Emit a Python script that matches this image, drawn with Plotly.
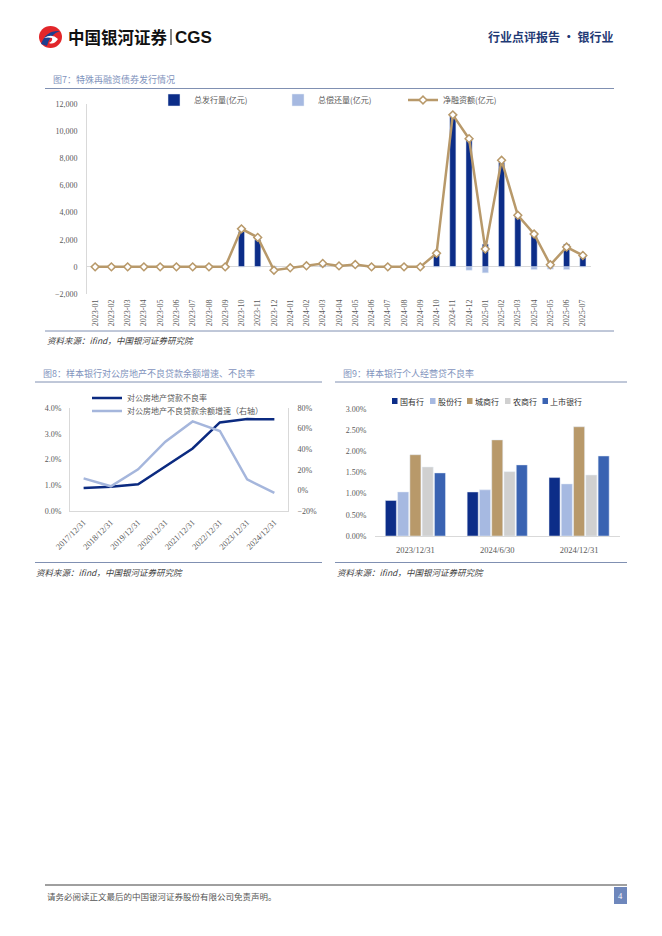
import plotly.graph_objects as go

W, H = 662, 936


def X(px):
    return px / W


def Y(py):
    return 1 - py / H


# ---------------- data: 图7 ----------------
months = ["2023-01", "2023-02", "2023-03", "2023-04", "2023-05", "2023-06", "2023-07", "2023-08",
          "2023-09", "2023-10", "2023-11", "2023-12", "2024-01", "2024-02", "2024-03", "2024-04",
          "2024-05", "2024-06", "2024-07", "2024-08", "2024-09", "2024-10", "2024-11", "2024-12",
          "2025-01", "2025-02", "2025-03", "2025-04", "2025-05", "2025-06", "2025-07"]
issuance = [0, 0, 0, 0, 0, 0, 0, 0,
            0, 2600, 2000, 60, 0, 70, 250, 70,
            170, 0, 0, 0, 0, 940, 11100, 9440,
            1680, 7700, 3700, 2350, 200, 1680, 940]
repayment = [0, 0, 0, 0, 0, 0, 0, 0,
             0, 0, 0, 0, 0, 0, 0, 0,
             0, 0, 0, 0, 0, 0, 0, -250,
             -440, 0, 0, -200, -170, -200, 0]
net_financing = [0, 0, 0, 0, 0, 0, 0, 0,
                 0, 2800, 2170, -250, -70, 80, 250, 70,
                 170, 0, 0, 0, 0, 1000, 11200, 9440,
                 1310, 7850, 3800, 2420, 150, 1460, 840]

# ---------------- data: 图8 ----------------
years8 = ["2017/12/31", "2018/12/31", "2019/12/31", "2020/12/31",
          "2021/12/31", "2022/12/31", "2023/12/31", "2024/12/31"]
re_npl_rate = [0.0089, 0.0094, 0.0104, 0.0172, 0.0243, 0.0344, 0.0357, 0.0356]
re_npl_growth = [0.117, 0.040, 0.204, 0.473, 0.670, 0.577, 0.107, -0.025]

# ---------------- data: 图9 ----------------
dates9 = ["2023/12/31", "2024/6/30", "2024/12/31"]
bank_names = ["国有行", "股份行", "城商行", "农商行", "上市银行"]
state_owned = [0.0084, 0.0104, 0.0138]
joint_stock = [0.0104, 0.0109, 0.0123]
city_comm = [0.0192, 0.0227, 0.0258]
rural_comm = [0.0163, 0.0152, 0.0144]
listed_banks = [0.0149, 0.0168, 0.0189]

NAVY = "#0C2D88"
LIGHT = "#A6B9E1"
TAN = "#B8996A"
GRAY = "#D0D0D0"
MIDBLUE = "#3A63B2"
TXT = "#595959"
SERIF = "Liberation Serif, Noto Sans CJK SC"
CJK = "Noto Sans CJK SC"

fig = go.Figure()

# 图7
fig.add_bar(x=months, y=issuance, name="总发行量(亿元)", marker_color=NAVY,
            width=0.38, offset=-0.19, xaxis="x", yaxis="y", legend="legend")
fig.add_bar(x=months, y=repayment, name="总偿还量(亿元)", marker_color=LIGHT,
            width=0.38, offset=-0.19, xaxis="x", yaxis="y", legend="legend2")
fig.add_scatter(x=months, y=net_financing, name="净融资额(亿元)", mode="lines+markers",
                line=dict(color=TAN, width=2.5),
                marker=dict(symbol="diamond", size=6, color="white", line=dict(color=TAN, width=1.5)),
                xaxis="x", yaxis="y", legend="legend3")

# 图8
fig.add_scatter(x=years8, y=re_npl_rate, name="对公房地产贷款不良率", mode="lines",
                line=dict(color="#0B2A80", width=2.5), xaxis="x2", yaxis="y2", legend="legend4")
fig.add_scatter(x=years8, y=re_npl_growth, name="对公房地产不良贷款余额增速（右轴）", mode="lines",
                line=dict(color="#A5B6DC", width=2.5), xaxis="x2", yaxis="y3", legend="legend5")

# 图9
series9 = [state_owned, joint_stock, city_comm, rural_comm, listed_banks]
colors9 = [NAVY, LIGHT, TAN, GRAY, MIDBLUE]
for name, vals, col in zip(bank_names, series9, colors9):
    fig.add_bar(x=dates9, y=vals, name=name, marker_color=col, xaxis="x3", yaxis="y4",
                showlegend=False)

tickf = dict(family=SERIF, size=8, color=TXT)


def leg(x, y):
    return dict(orientation="v", x=X(x), y=Y(y), xanchor="left", yanchor="middle",
                font=dict(family=CJK, size=8, color=TXT), bgcolor="rgba(0,0,0,0)", itemwidth=30)


fig.update_layout(
    width=W, height=H, margin=dict(l=0, r=0, t=0, b=0, autoexpand=False),
    paper_bgcolor="white", plot_bgcolor="white",
    barmode="group", bargap=0.25, bargroupgap=0.1,
    font=dict(family=SERIF, color=TXT),
    xaxis=dict(domain=[X(87), X(591)], anchor="y", type="category", range=[-0.5, 30.5],
               tickangle=-90, tickfont=dict(family=SERIF, size=8, color=TXT), showline=False,
               ticks="", showgrid=False, zeroline=False, ticklabelstandoff=3, automargin=False),
    yaxis=dict(domain=[Y(294), Y(104)], anchor="x", range=[-2000, 12000], dtick=2000,
               tickformat=",", showgrid=False, zeroline=True, zerolinecolor="#D9D9D9",
               zerolinewidth=1, showline=True, linecolor="#D9D9D9", linewidth=1,
               tickfont=tickf, ticklabelstandoff=7, automargin=False),
    xaxis2=dict(domain=[X(70), X(288)], anchor="y2", type="category", range=[-0.5, 7.5],
                tickangle=-45, tickfont=dict(family=SERIF, size=8.5, color=TXT), showline=True,
                linecolor="#D9D9D9", showgrid=False, ticks="", ticklabelstandoff=2, automargin=False),
    yaxis2=dict(domain=[Y(511), Y(408)], anchor="x2", range=[0, 0.04], dtick=0.01,
                tickformat=".1%", showgrid=False, zeroline=False, showline=True,
                linecolor="#D9D9D9", tickfont=tickf, ticklabelstandoff=6, automargin=False),
    yaxis3=dict(overlaying="y2", side="right", anchor="x2", range=[-0.2, 0.8], dtick=0.2,
                tickformat=".0%", showgrid=False, zeroline=False, showline=True,
                linecolor="#D9D9D9", tickfont=tickf, ticklabelstandoff=7, automargin=False),
    xaxis3=dict(domain=[X(374.5), X(620)], anchor="y4", type="category", range=[-0.5, 2.5],
                tickfont=dict(family=SERIF, size=8.5, color=TXT), showline=True,
                linecolor="#D9D9D9", showgrid=False, ticks="", ticklabelstandoff=6, automargin=False),
    yaxis4=dict(domain=[Y(536), Y(409)], anchor="x3", range=[0, 0.03], dtick=0.005,
                tickformat=".2%", showgrid=False, zeroline=False, showline=False,
                tickfont=tickf, ticklabelstandoff=7, automargin=False),
    legend=leg(154, 100),
    legend2=leg(278, 100),
    legend3=leg(403, 100),
    legend4=leg(87, 398),
    legend5=leg(87, 411),
)

shapes = []
ann = []


def hline(x0, x1, y, color, w=1):
    shapes.append(dict(type="line", xref="paper", yref="paper", x0=X(x0), x1=X(x1),
                       y0=Y(y), y1=Y(y), line=dict(color=color, width=w)))


def text(x, y, s, size, color, xanchor="left", family=CJK, bold=False, italic=False):
    if bold:
        s = "<b>" + s + "</b>"
    if italic:
        s = "<i>" + s + "</i>"
    ann.append(dict(x=X(x), y=Y(y), xref="paper", yref="paper", text=s, showarrow=False,
                    xanchor=xanchor, yanchor="middle", align=xanchor if xanchor != "center" else "center",
                    borderpad=0, font=dict(family=family, size=size, color=color)))


# header logo
shapes.append(dict(type="circle", xref="paper", yref="paper", x0=X(39), x1=X(62), y0=Y(48), y1=Y(26),
                   fillcolor="#E2262A", line=dict(width=0)))
shapes.append(dict(type="path", xref="paper", yref="paper",
                   path=f"M {X(41)},{Y(44)} Q {X(46)},{Y(30)} {X(60)},{Y(31)} Q {X(50)},{Y(34)} {X(47)},{Y(46)} Z",
                   fillcolor="#1D3E8E", line=dict(width=0)))
shapes.append(dict(type="path", xref="paper", yref="paper",
                   path=f"M {X(44)},{Y(38)} Q {X(52)},{Y(33)} {X(58)},{Y(39)} Q {X(54)},{Y(45)} {X(49)},{Y(43)} Q {X(53)},{Y(41)} {X(52)},{Y(38)} Q {X(48)},{Y(37)} {X(44)},{Y(38)} Z",
                   fillcolor="white", line=dict(width=0)))
text(67, 37, "中国银河证券", 16.5, "#111111", bold=True)
shapes.append(dict(type="line", xref="paper", yref="paper", x0=X(171), x1=X(171), y0=Y(29), y1=Y(45),
                   line=dict(color="#333333", width=1.2)))
text(174, 37.5, "CGS", 17, "#111111", family="Liberation Sans", bold=True)
text(614, 37, "行业点评报告 · 银行业", 12, "#1F3A75", xanchor="right", bold=True)

# 图7
text(52, 79, "图7：特殊再融资债券发行情况", 9, "#7F93BD")
hline(45, 614, 88.5, "#8090B2")
hline(45, 614, 331, "#8090B2")
text(46, 339.5, "资料来源：ifind，中国银河证券研究院", 8.5, "#404040", italic=True)

# 图8
text(42, 373, "图8：样本银行对公房地产不良贷款余额增速、不良率", 9, "#7F93BD")
hline(35, 322, 382, "#8090B2")
hline(35, 322, 562.5, "#8090B2")
text(35, 571.5, "资料来源：ifind，中国银河证券研究院", 8.5, "#404040", italic=True)

# 图9
text(342, 373, "图9：样本银行个人经营贷不良率", 9, "#7F93BD")
hline(335, 627, 382, "#8090B2")
hline(335, 627, 562.5, "#8090B2")
text(336, 571.5, "资料来源：ifind，中国银河证券研究院", 8.5, "#404040", italic=True)

# 图9 legend
leg_sq = [392, 430, 467, 505, 542.5]
for sx, name, col in zip(leg_sq, bank_names, colors9):
    shapes.append(dict(type="rect", xref="paper", yref="paper", x0=X(sx), x1=X(sx + 5.5),
                       y0=Y(404), y1=Y(398), fillcolor=col, line=dict(width=0)))
    text(sx + 6.5, 401, name, 8, "#333333")

# footer
hline(45, 627, 885, "#404040", 1)
text(46, 896, "请务必阅读正文最后的中国银河证券股份有限公司免责声明。", 8.5, "#555555")
shapes.append(dict(type="rect", xref="paper", yref="paper", x0=X(614), x1=X(627), y0=Y(904), y1=Y(887),
                   fillcolor="#6E87BC", line=dict(width=0)))
text(620.5, 895.5, "4", 8.5, "white", xanchor="center", family=SERIF)

fig.update_layout(shapes=shapes, annotations=ann)

fig.write_html("out.html", config={"displayModeBar": False},
               post_script="document.body.style.margin='0';document.body.style.overflow='hidden';")
